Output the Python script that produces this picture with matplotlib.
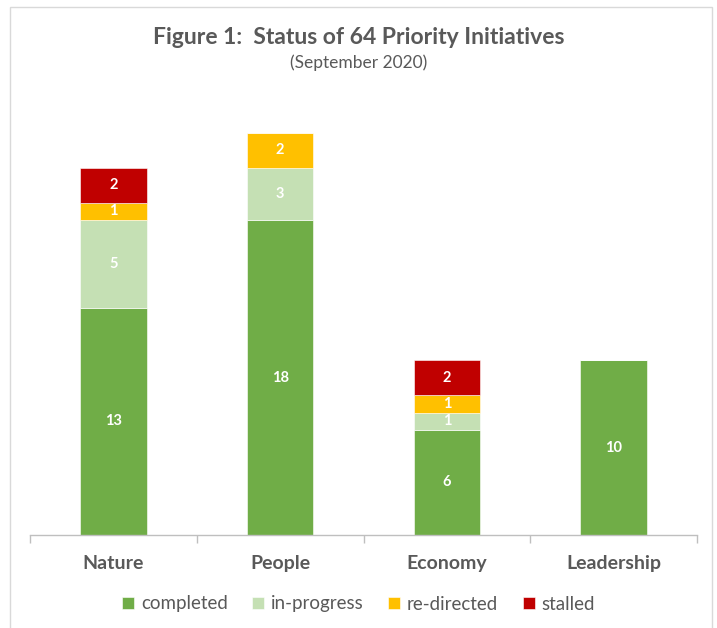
import matplotlib
matplotlib.use("Agg")
import matplotlib.pyplot as plt
from matplotlib.patches import Rectangle
import numpy as np

categories = ["Nature", "People", "Economy", "Leadership"]
series_names = ["completed", "in-progress", "re-directed", "stalled"]
completed = [13, 18, 6, 10]
in_progress = [5, 3, 1, 0]
re_directed = [1, 2, 1, 0]
stalled = [2, 0, 2, 0]
colors = ["#70AD47", "#C5E0B4", "#FFC000", "#C00000"]

FONT = ["Lato", "DejaVu Sans"]
plt.rcParams['font.family'] = FONT
GRAY = "#595959"

W, H = 717, 628
fig = plt.figure(figsize=(W / 100, H / 100), dpi=100)
fig.patch.set_facecolor("white")

# border of chart area
fig.add_artist(Rectangle((10 / W, -0.01), (712 - 10) / W, (H - 7) / H + 0.01,
                         transform=fig.transFigure, fill=False,
                         edgecolor="#D9D9D9", linewidth=1.0))

ax = fig.add_axes([30 / W, (H - 535) / H, 667 / W, 437.5 / H])
x = np.arange(len(categories))
bottom = np.zeros(len(categories))
for vals, name, col in zip([completed, in_progress, re_directed, stalled], series_names, colors):
    vals = np.array(vals, dtype=float)
    ax.bar(x, vals, width=0.4, bottom=bottom, color=col, label=name,
           edgecolor="white", linewidth=0.4)
    for xi, v, b in zip(x, vals, bottom):
        if v > 0:
            ax.text(xi, b + v / 2, f"{int(v)}", ha="center", va="center",
                    color="white", fontsize=10.5, fontweight="bold")
    bottom += vals

ax.set_xlim(-0.5, 3.5)
ax.set_ylim(0, 25)
for s in ["top", "right", "left"]:
    ax.spines[s].set_visible(False)
ax.spines["bottom"].set_color("#BFBFBF")
ax.spines["bottom"].set_linewidth(1)
ax.set_yticks([])
ax.set_xticks(np.arange(-0.5, 4.0, 1.0))
ax.set_xticklabels([])
ax.tick_params(axis="x", length=6, color="#BFBFBF", width=1)
for xi, c in zip(x, categories):
    ax.text(xi, -1.65, c, ha="center", va="center", fontsize=14,
            fontweight="bold", color=GRAY)

fig.text(0.5, (H - 38) / H, "Figure 1:  Status of 64 Priority Initiatives",
         ha="center", va="center", fontsize=16.5, fontweight="bold", color=GRAY)
fig.text(0.5, (H - 63) / H, "(September 2020)", ha="center", va="center",
         fontsize=12.5, color=GRAY)

handles, labels = ax.get_legend_handles_labels()
leg = fig.legend(handles, labels, loc="center", bbox_to_anchor=(0.5, (H - 604) / H),
                 ncol=4, frameon=False, fontsize=13.5, handlelength=0.65,
                 handleheight=0.65, handletextpad=0.35, columnspacing=1.3)
for t in leg.get_texts():
    t.set_color(GRAY)

fig.savefig("out.png", dpi=100)
